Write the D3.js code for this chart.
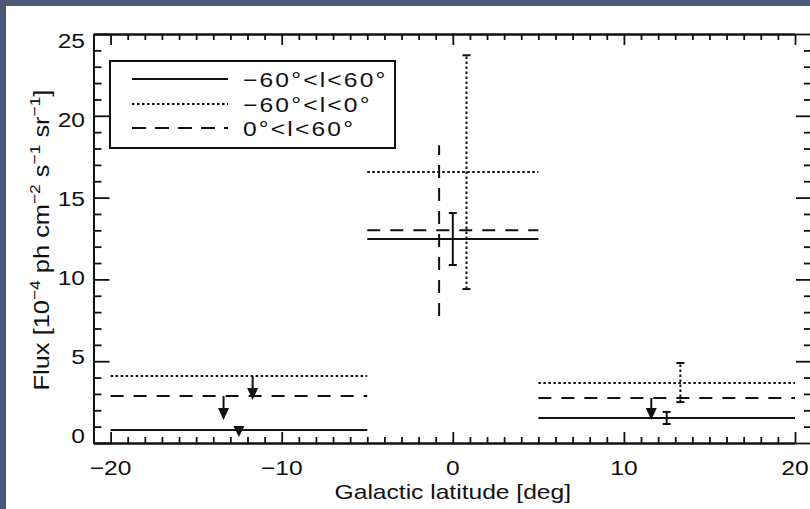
<!DOCTYPE html>
<html>
<head>
<meta charset="utf-8">
<script src="https://cdn.jsdelivr.net/npm/d3@7"></script>
<style>
  html, body { margin: 0; padding: 0; background: #4c5677; overflow: hidden; }
  svg { display: block; }
  text { font-family: "Liberation Sans", Arial, Helvetica, sans-serif; fill: #111; }
</style>
</head>
<body>
<svg id="chart" width="810" height="509"></svg>
<script>
// ---------------- data ----------------
const binEdges = [[-20, -5], [-5, 5], [5, 20]];
const seriesNames = ["\u221260\u00b0<l<60\u00b0", "\u221260\u00b0<l<0\u00b0", "0\u00b0<l<60\u00b0"];
const solidFlux  = [0.8, 12.47, 1.53];
const dottedFlux = [4.1, 16.56, 3.67];
const dashedFlux = [2.87, 13.0, 2.75];

// error bars: latitude, low, high
const solidErr  = [[0.0, 10.88, 14.06], [12.5, 1.16, 1.9]];
const dottedErr = [[0.8, 9.41, 23.7], [13.3, 2.5, 4.89]];
const dashedErr = [[-0.8, 7.76, 18.2]];

// upper limits: latitude, from, arrow tip
const solidUL  = [[-12.5, 1.04, 0.37]];
const dottedUL = [[-11.7, 4.1, 2.63]];
const dashedUL = [[-13.4, 2.87, 1.41], [11.6, 2.75, 1.41]];

const xMajor = [-20, -10, 0, 10, 20];
const yMajor = [0, 5, 10, 15, 20, 25];
const xMinor = d3.range(-20, 21).filter(v => v % 10 !== 0);
const yMinor = d3.range(1, 25).filter(v => v % 5 !== 0);
const xTitle = "Galactic latitude [deg]";

// ---------------- layout ----------------
const svg = d3.select("#chart");
svg.append("rect").attr("x", 6).attr("y", 6).attr("width", 804).attr("height", 503).attr("fill", "#ffffff");

const x = d3.scaleLinear().domain([-21, 20]).range([93.5, 795]);
const y = d3.scaleLinear().domain([0, 25]).range([443, 34]);
const yLab = d3.scaleLinear().domain([0, 25]).range([436, 40.5]);

const styles = {
  solid:  null,
  dotted: "2.5,2.5",
  dashed: "13,10"
};
const stroke = "#111";

// ---------------- axes ----------------
function axisGroup(axisFn, transform, values, size) {
  const g = svg.append("g").attr("transform", transform)
    .call(axisFn.tickValues(values).tickSizeInner(size).tickSizeOuter(0).tickFormat(""));
  g.selectAll("path.domain").attr("stroke", stroke).attr("stroke-width", 2);
  g.selectAll(".tick line").attr("stroke", stroke).attr("stroke-width", 1.8);
  return g;
}
// top (ticks down), bottom (ticks up), left (ticks right), right (ticks left)
axisGroup(d3.axisBottom(x), "translate(0,34)", xMajor, 11);
axisGroup(d3.axisBottom(x), "translate(0,34)", xMinor, 6);
axisGroup(d3.axisTop(x), "translate(0,443)", xMajor, 11);
axisGroup(d3.axisTop(x), "translate(0,443)", xMinor, 6);
axisGroup(d3.axisRight(y), "translate(93.5,0)", yMajor, 16);
axisGroup(d3.axisRight(y), "translate(93.5,0)", yMinor, 8);
axisGroup(d3.axisLeft(y), "translate(812,0)", yMajor, 16);
axisGroup(d3.axisLeft(y), "translate(812,0)", yMinor, 8);

const fmt = v => (v < 0 ? "\u2212" + Math.abs(v) : String(v));
const FS = 20.5, SX = 1.2;

svg.append("g").selectAll("text").data(xMajor).join("text")
  .attr("transform", d => `translate(${x(d)},475) scale(${SX},1)`)
  .attr("text-anchor", "middle").attr("font-size", FS).text(fmt);

svg.append("g").selectAll("text").data(yMajor).join("text")
  .attr("transform", d => `translate(85,${yLab(d) + 7.3}) scale(${SX},1)`)
  .attr("text-anchor", "end").attr("font-size", FS).text(fmt);

svg.append("text")
  .attr("transform", `translate(${x(0)},499) scale(${SX},1)`)
  .attr("text-anchor", "middle").attr("font-size", FS).text(xTitle);

// y title with superscripts
const yt = svg.append("text")
  .attr("transform", "translate(49,240) rotate(-90) scale(1.24,1.1)")
  .attr("text-anchor", "middle").attr("font-size", FS);
const parts = [["Flux [10", 0], ["\u22124", 1], [" ph cm", 0], ["\u22122", 1], [" s", 0], ["\u22121", 1], [" sr", 0], ["\u22121", 1], ["]", 0]];
let prevSup = 0;
parts.forEach(([t, sup]) => {
  const ts = yt.append("tspan").text(t);
  if (sup) { ts.attr("font-size", 14).attr("dy", prevSup ? 0 : -8); }
  else { ts.attr("dy", prevSup ? 8 : 0); }
  prevSup = sup;
});

// ---------------- marks ----------------
const plot = svg.append("g");
function drawSeries(values, dash, errs, uls, caps) {
  // horizontal bin levels
  plot.append("g").selectAll("line").data(values).join("line")
    .attr("x1", (d, i) => x(binEdges[i][0])).attr("x2", (d, i) => x(binEdges[i][1]))
    .attr("y1", d => y(d)).attr("y2", d => y(d))
    .attr("stroke", stroke).attr("stroke-width", 2)
    .attr("stroke-dasharray", dash);
  // vertical error bars
  const eg = plot.append("g");
  eg.selectAll("line.bar").data(errs).join("line").attr("class", "bar")
    .attr("x1", d => x(d[0])).attr("x2", d => x(d[0]))
    .attr("y1", d => y(d[1])).attr("y2", d => y(d[2]))
    .attr("stroke", stroke).attr("stroke-width", 2)
    .attr("stroke-dasharray", dash);
  if (caps) {
    const capData = errs.flatMap(d => [[d[0], d[1]], [d[0], d[2]]]);
    eg.selectAll("line.cap").data(capData).join("line").attr("class", "cap")
      .attr("x1", d => x(d[0]) - 4).attr("x2", d => x(d[0]) + 4)
      .attr("y1", d => y(d[1])).attr("y2", d => y(d[1]))
      .attr("stroke", stroke).attr("stroke-width", 2);
  }
  // upper limit arrows
  const ag = plot.append("g");
  uls.forEach(d => {
    const cx = x(d[0]), y0 = y(d[1]), tip = y(d[2]);
    const headH = Math.min(12, tip - y0), headW = 11;
    ag.append("line").attr("x1", cx).attr("x2", cx).attr("y1", y0).attr("y2", tip - headH + 1)
      .attr("stroke", stroke).attr("stroke-width", 2);
    ag.append("path")
      .attr("d", `M${cx - headW / 2},${tip - headH} L${cx + headW / 2},${tip - headH} L${cx},${tip} Z`)
      .attr("fill", stroke);
  });
}
drawSeries(solidFlux, styles.solid, solidErr, solidUL, true);
drawSeries(dottedFlux, styles.dotted, dottedErr, dottedUL, true);
drawSeries(dashedFlux, styles.dashed, dashedErr, dashedUL, false);

// ---------------- legend ----------------
const lg = svg.append("g");
lg.append("rect").attr("x", 110).attr("y", 61).attr("width", 285).attr("height", 87)
  .attr("fill", "#fff").attr("stroke", stroke).attr("stroke-width", 2);
const legendDash = [styles.solid, styles.dotted, "14,9"];
const legendY = [79, 104, 128];
seriesNames.forEach((name, i) => {
  lg.append("line").attr("x1", 132).attr("x2", 228).attr("y1", legendY[i]).attr("y2", legendY[i])
    .attr("stroke", stroke).attr("stroke-width", 2).attr("stroke-dasharray", legendDash[i]);
  lg.append("text").attr("transform", `translate(243,${legendY[i] + 7.5}) scale(${SX},1)`)
    .attr("font-size", FS).attr("letter-spacing", 1.8).text(name);
});
</script>
</body>
</html>
